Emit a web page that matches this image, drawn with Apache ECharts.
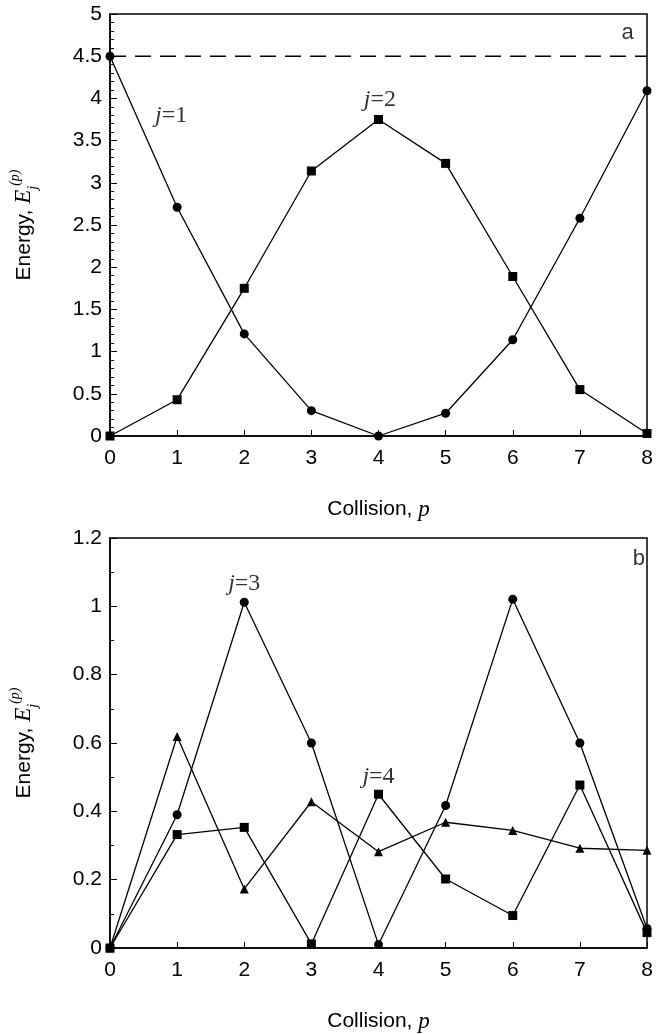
<!DOCTYPE html>
<html>
<head>
<meta charset="utf-8">
<script src="https://cdn.jsdelivr.net/npm/echarts@6/dist/echarts.min.js"></script>
<style>
html,body{margin:0;padding:0;background:#fff;}
#chart{width:672px;height:1034px;}
</style>
</head>
<body>
<div id="chart"></div>
<script>
// ---- data ----
const collisions = [0, 1, 2, 3, 4, 5, 6, 7, 8];
// panel a
const aJ1 = [4.5, 2.71, 1.21, 0.30, 0.0, 0.27, 1.14, 2.58, 4.09];   // circles
const aJ2 = [0.0, 0.43, 1.75, 3.14, 3.75, 3.23, 1.89, 0.55, 0.03];  // squares
const aTotalX = [0, 8];
const aTotalY = [4.5, 4.5];
// panel b
const bJ3 = [0.0, 0.39, 1.012, 0.60, 0.01, 0.417, 1.021, 0.60, 0.057];   // circles
const bJ4 = [0.0, 0.332, 0.353, 0.012, 0.45, 0.202, 0.095, 0.477, 0.045]; // squares
const bJ5 = [0.0, 0.619, 0.173, 0.428, 0.282, 0.368, 0.344, 0.292, 0.286]; // triangles
// annotations (data coordinates)
const aLabels = [
  {x: 0.91, y: 3.79, j: '1'},
  {x: 4.02, y: 3.99, j: '2'}
];
const bLabels = [
  {x: 2.0, y: 1.065, j: '3'},
  {x: 4.0, y: 0.50, j: '4'}
];
const panelA = {x: 7.71, y: 4.78, t: 'a'};
const panelB = {x: 7.88, y: 1.14, t: 'b'};
const xTicks = {min: 0, max: 8, interval: 1};
const aTicks = {min: 0, max: 5, interval: 0.5};
const bTicks = {min: 0, max: 1.2, interval: 0.2};

// ---- chart ----
const SANS = '"Liberation Sans", Arial, Helvetica, sans-serif';
const SERIF = '"Liberation Serif", "Times New Roman", serif';
const chart = echarts.init(document.getElementById('chart'), null, {renderer: 'canvas'});

function xAxisDef(gridIndex) {
  return {
    type: 'value', gridIndex, min: xTicks.min, max: xTicks.max, interval: xTicks.interval,
    name: '{a|Collision, }{p|p}', nameLocation: 'middle', nameGap: 62,
    nameTextStyle: {
      rich: {
        a: {fontFamily: SANS, fontSize: 21, color: '#000'},
        p: {fontFamily: SERIF, fontStyle: 'italic', fontSize: 23, color: '#000'}
      }
    },
    axisLine: {show: true, onZero: false, lineStyle: {color: '#000', width: 1.5}},
    axisTick: {show: true, inside: true, length: 6, lineStyle: {color: '#000', width: 1}},
    axisLabel: {color: '#000', fontFamily: SANS, fontSize: 21, margin: 12},
    splitLine: {show: false}
  };
}
function yAxisDef(gridIndex, t, split) {
  return {
    type: 'value', gridIndex, min: t.min, max: t.max, interval: t.interval,
    name: '{a|Energy, }{e|E}{j|j}{p|(p)}', nameLocation: 'middle', nameGap: 70, nameRotate: 90,
    nameTextStyle: {
      rich: {
        a: {fontFamily: SANS, fontSize: 21, color: '#000', lineHeight: 32},
        e: {fontFamily: SERIF, fontStyle: 'italic', fontSize: 23, color: '#000', lineHeight: 32},
        j: {fontFamily: SERIF, fontStyle: 'italic', fontSize: 14, color: '#000', lineHeight: 14, verticalAlign: 'bottom'},
        p: {fontFamily: SERIF, fontStyle: 'italic', fontSize: 14, color: '#000', lineHeight: 14, verticalAlign: 'top'}
      }
    },
    axisLine: {show: true, onZero: false, lineStyle: {color: '#000', width: 1.5}},
    axisTick: {show: true, inside: true, length: 7, lineStyle: {color: '#000', width: 1}},
    minorTick: {show: true, splitNumber: split, length: 4, lineStyle: {color: '#000', width: 1}},
    axisLabel: {color: '#000', fontFamily: SANS, fontSize: 21, margin: 8},
    splitLine: {show: false}
  };
}
function lineSeries(xi, yi, ys, symbol, size) {
  return {
    type: 'line', xAxisIndex: xi, yAxisIndex: yi,
    data: collisions.map((c, i) => [c, ys[i]]),
    symbol, symbolSize: size, showSymbol: true,
    itemStyle: {color: '#000'},
    lineStyle: {color: '#000', width: 1.3},
    animation: false, z: 3
  };
}
function labelSeries(xi, yi, items) {
  return {
    type: 'scatter', xAxisIndex: xi, yAxisIndex: yi, symbolSize: 0, silent: true,
    data: items.map(d => ({value: [d.x, d.y], name: d.j})),
    label: {
      show: true, position: 'inside',
      formatter: p => '{i|j}{n|=' + p.name + '}',
      rich: {
        i: {fontFamily: SERIF, fontStyle: 'italic', fontSize: 24, color: '#000'},
        n: {fontFamily: SERIF, fontSize: 24, color: '#000'}
      }
    },
    animation: false
  };
}
function panelSeries(xi, yi, d) {
  return {
    type: 'scatter', xAxisIndex: xi, yAxisIndex: yi, symbolSize: 0, silent: true,
    data: [{value: [d.x, d.y], name: d.t}],
    label: {show: true, position: 'inside', formatter: p => p.name,
      fontFamily: SANS, fontSize: 22, color: '#000'},
    animation: false
  };
}

chart.setOption({
  backgroundColor: '#fff',
  animation: false,
  grid: [
    {left: 105, right: 25, top: 14, height: 422, show: true, borderColor: '#000', borderWidth: 1.5, backgroundColor: 'transparent'},
    {left: 105, right: 25, top: 538, height: 420, show: true, borderColor: '#000', borderWidth: 1.5, backgroundColor: 'transparent'}
  ],
  xAxis: [xAxisDef(0), xAxisDef(1)],
  yAxis: [yAxisDef(0, aTicks, 5), yAxisDef(1, bTicks, 2)],
  series: [
    {
      type: 'line', xAxisIndex: 0, yAxisIndex: 0,
      data: aTotalX.map((x, i) => [x, aTotalY[i]]),
      symbol: 'none', lineStyle: {color: '#000', width: 1.4, type: [16, 9]}, z: 2
    },
    lineSeries(0, 0, aJ1, 'circle', 9),
    lineSeries(0, 0, aJ2, 'rect', 9),
    lineSeries(1, 1, bJ3, 'circle', 9),
    lineSeries(1, 1, bJ4, 'rect', 9),
    lineSeries(1, 1, bJ5, 'triangle', 9),
    labelSeries(0, 0, aLabels),
    labelSeries(1, 1, bLabels),
    panelSeries(0, 0, panelA),
    panelSeries(1, 1, panelB)
  ]
});
</script>
</body>
</html>
